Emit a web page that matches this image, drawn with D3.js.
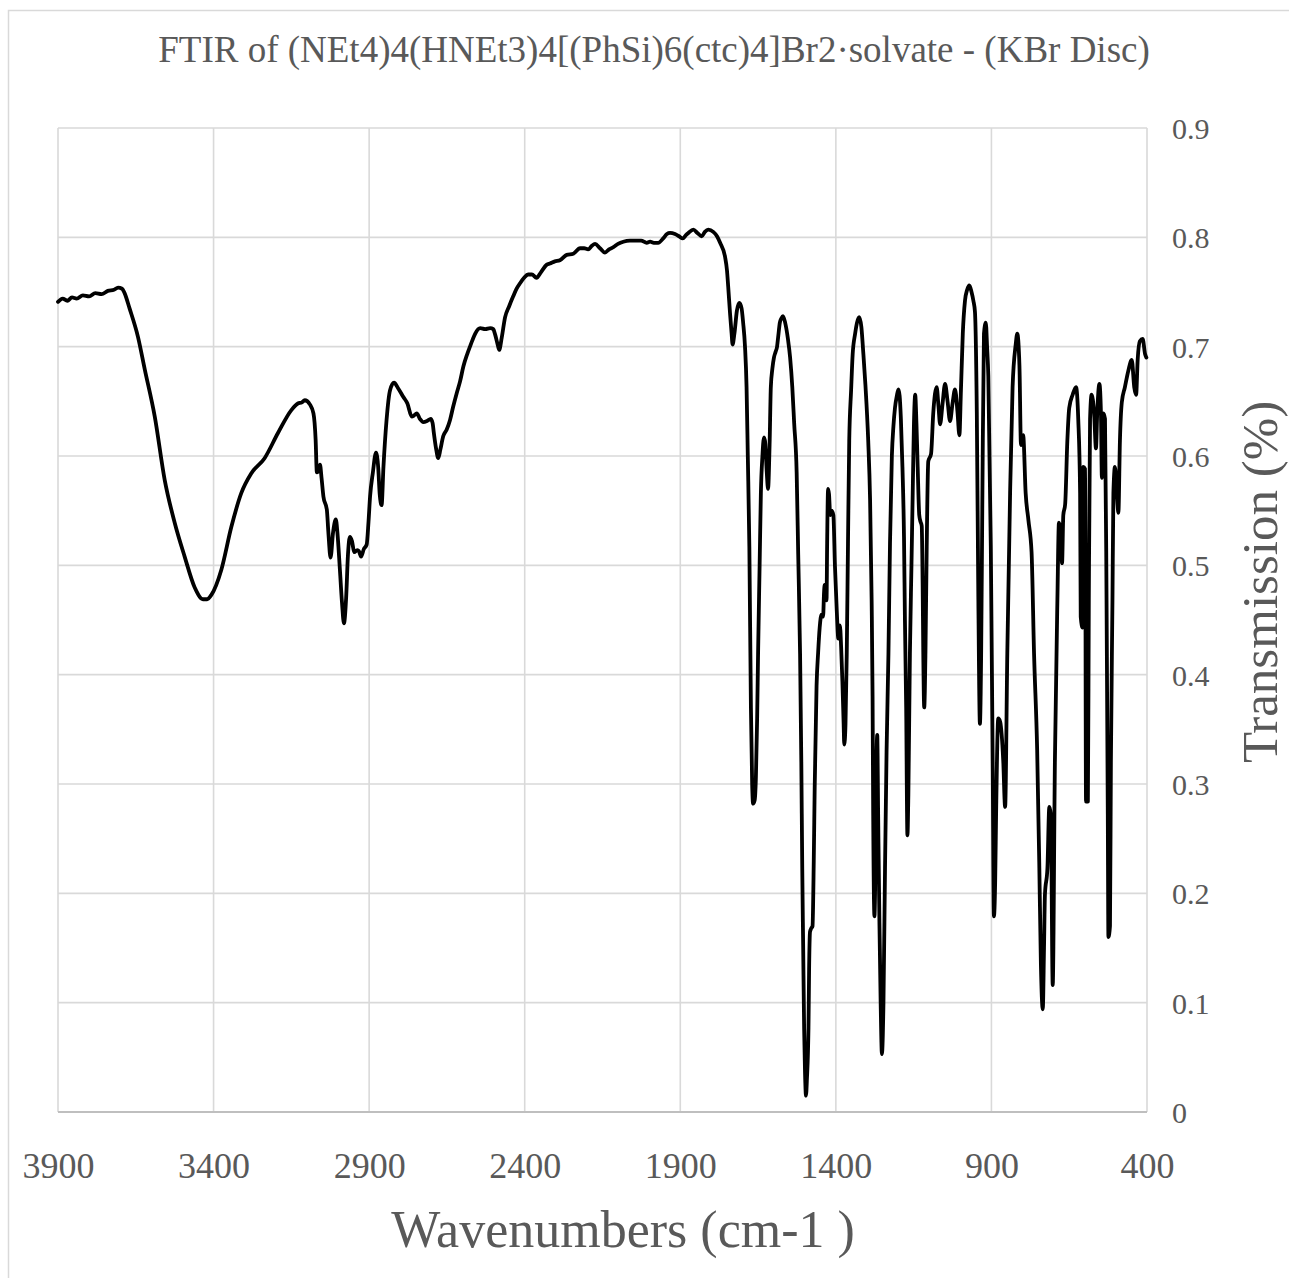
<!DOCTYPE html>
<html>
<head>
<meta charset="utf-8">
<script src="https://cdn.jsdelivr.net/npm/d3@7"></script>
<style>
  html, body { margin: 0; padding: 0; background: #fff; }
  svg { display: block; }
  text { font-family: "Liberation Serif", "Times New Roman", serif; fill: #595959; }
</style>
</head>
<body>
<svg id="chart" width="1289" height="1278"></svg>
<script>
// FTIR spectrum, KBr disc: wavenumber (cm-1) and transmission, row by row
const wavenumbers = [
  3900, 3885, 3870, 3855, 3840, 3820, 3800, 3780, 3760, 3740, 3720, 3707, 3694, 3686, 3670, 3643,
  3621, 3589, 3557, 3525, 3493, 3461, 3434, 3421, 3407, 3375, 3343, 3311, 3279, 3236, 3193, 3150,
  3129, 3116, 3107, 3090, 3079, 3072, 3068, 3061, 3058, 3053, 3047, 3036, 3031, 3024, 3016, 3007,
  3002, 2994, 2987, 2981, 2974, 2968, 2962, 2955, 2948, 2938, 2933, 2926, 2917, 2908, 2902, 2897,
  2888, 2878, 2871, 2866, 2860, 2854, 2844, 2833, 2820, 2807, 2790, 2777, 2763, 2756, 2747, 2737,
  2726, 2714, 2702, 2696, 2692, 2685, 2678, 2671, 2662, 2651, 2640, 2630, 2619, 2608, 2597, 2585,
  2576, 2568, 2559, 2543, 2527, 2511, 2501, 2495, 2487, 2482, 2474, 2463, 2450, 2437, 2426, 2415,
  2402, 2389, 2377, 2362, 2348, 2329, 2319, 2303, 2287, 2265, 2244, 2222, 2209, 2196, 2185, 2174,
  2158, 2142, 2129, 2115, 2100, 2083, 2062, 2040, 2026, 2008, 1997, 1985, 1971, 1955, 1943, 1933,
  1917, 1904, 1892, 1882, 1874, 1858, 1845, 1831, 1821, 1810, 1794, 1782, 1772, 1756, 1750, 1746,
  1740, 1735, 1732, 1726, 1718, 1710, 1703, 1698, 1692, 1687, 1683, 1678, 1673, 1669, 1666, 1661,
  1657, 1653, 1650, 1645, 1641, 1636, 1631, 1627, 1622, 1618, 1613, 1609, 1604, 1599, 1594, 1589,
  1585, 1580, 1575, 1570, 1563, 1554, 1547, 1540, 1534, 1526, 1521, 1515, 1511, 1508, 1505, 1502,
  1499, 1496, 1493, 1488, 1486, 1483, 1479, 1475, 1471, 1468, 1462, 1457, 1452, 1446, 1441, 1438,
  1436, 1430, 1428, 1425, 1422, 1418, 1414, 1408, 1403, 1397, 1392, 1387, 1383, 1379, 1375, 1373,
  1369, 1365, 1361, 1357, 1351, 1346, 1338, 1332, 1325, 1318, 1312, 1305, 1296, 1290, 1285, 1282,
  1280, 1276, 1274, 1271, 1267, 1264, 1260, 1256, 1252, 1247, 1242, 1237, 1231, 1226, 1220, 1215,
  1210, 1204, 1199, 1195, 1191, 1186, 1181, 1178, 1174, 1170, 1167, 1162, 1157, 1153, 1149, 1145,
  1141, 1137, 1132, 1128, 1124, 1121, 1119, 1116, 1112, 1108, 1103, 1094, 1087, 1076, 1070, 1065,
  1057, 1049, 1041, 1033, 1025, 1017, 1009, 1003,  998,  992,  985,  978,  971,  964,  958,  953,
   947,  942,  937,  933,  929,  924,  918,  914,  910,  902,  896,  892,  888,  885,  878,  872,
   867,  862,  856,  849,  840,  832,  822,  817,  810,  805,  798,  790,  781,  771,  763,  753,
   746,  741,  735,  731,  728,  720,  714,  709,  703,  696,  688,  683,  677,  673,  669,  663,
   656,  650,  639,  628,  621,  615,  613,  607,  605,  599,  596,  590,  587,  583,  578,  570,
   564,  560,  553,  548,  545,  540,  535,  530,  526,  524,  519,  516,  511,  508,  503,  497,
   492,  487,  481,  471,  460,  449,  441,  435,  430,  423,  414,  406,  402
];
const transmission = [
  0.741, 0.744, 0.742, 0.745, 0.744, 0.747, 0.746, 0.749, 0.748, 0.751, 0.752, 0.754, 0.753, 0.749, 0.735, 0.709,
  0.679, 0.636, 0.578, 0.539, 0.508, 0.480, 0.469, 0.469, 0.473, 0.496, 0.535, 0.566, 0.584, 0.598, 0.621, 0.642,
  0.648, 0.649, 0.651, 0.647, 0.639, 0.615, 0.585, 0.588, 0.592, 0.580, 0.563, 0.551, 0.530, 0.507, 0.530, 0.542,
  0.530, 0.496, 0.465, 0.447, 0.470, 0.510, 0.526, 0.522, 0.512, 0.514, 0.513, 0.508, 0.515, 0.519, 0.540, 0.563,
  0.585, 0.603, 0.590, 0.565, 0.555, 0.590, 0.633, 0.660, 0.667, 0.662, 0.654, 0.648, 0.636, 0.637, 0.639, 0.634,
  0.631, 0.632, 0.634, 0.630, 0.621, 0.607, 0.598, 0.606, 0.618, 0.624, 0.633, 0.645, 0.657, 0.668, 0.682, 0.693,
  0.700, 0.706, 0.712, 0.717, 0.716, 0.717, 0.716, 0.711, 0.702, 0.697, 0.708, 0.727, 0.737, 0.746, 0.753, 0.758,
  0.763, 0.766, 0.766, 0.763, 0.768, 0.775, 0.776, 0.778, 0.779, 0.784, 0.785, 0.790, 0.790, 0.789, 0.792, 0.794,
  0.790, 0.786, 0.789, 0.791, 0.794, 0.796, 0.797, 0.797, 0.797, 0.795, 0.796, 0.795, 0.795, 0.799, 0.803, 0.804,
  0.803, 0.801, 0.799, 0.802, 0.804, 0.807, 0.804, 0.801, 0.805, 0.807, 0.805, 0.801, 0.795, 0.782, 0.770, 0.755,
  0.730, 0.712, 0.702, 0.712, 0.733, 0.740, 0.735, 0.722, 0.700, 0.663, 0.600, 0.517, 0.370, 0.300, 0.282, 0.285,
  0.306, 0.360, 0.419, 0.500, 0.566, 0.600, 0.617, 0.612, 0.585, 0.570, 0.610, 0.663, 0.680, 0.690, 0.695, 0.700,
  0.710, 0.722, 0.726, 0.728, 0.722, 0.707, 0.690, 0.663, 0.630, 0.585, 0.510, 0.419, 0.320, 0.223, 0.150, 0.077,
  0.035, 0.015, 0.030, 0.077, 0.130, 0.165, 0.168, 0.170, 0.230, 0.297, 0.390, 0.420, 0.443, 0.455, 0.453, 0.475,
  0.482, 0.468, 0.520, 0.570, 0.565, 0.546, 0.550, 0.546, 0.500, 0.458, 0.433, 0.445, 0.425, 0.394, 0.355, 0.336,
  0.355, 0.419, 0.520, 0.614, 0.660, 0.693, 0.712, 0.722, 0.727, 0.718, 0.695, 0.665, 0.614, 0.560, 0.468, 0.380,
  0.272, 0.179, 0.200, 0.290, 0.345, 0.270, 0.174, 0.100, 0.053, 0.100, 0.223, 0.330, 0.419, 0.520, 0.600, 0.627,
  0.644, 0.655, 0.661, 0.655, 0.634, 0.590, 0.526, 0.450, 0.370, 0.253, 0.290, 0.419, 0.500, 0.566, 0.630, 0.656,
  0.630, 0.590, 0.546, 0.540, 0.536, 0.480, 0.419, 0.370, 0.420, 0.517, 0.595, 0.602, 0.639, 0.663, 0.645, 0.629,
  0.648, 0.666, 0.650, 0.632, 0.648, 0.661, 0.640, 0.619, 0.660, 0.712, 0.742, 0.752, 0.756, 0.750, 0.742, 0.732,
  0.640, 0.468, 0.355, 0.420, 0.566, 0.712, 0.722, 0.700, 0.673, 0.517, 0.321, 0.179, 0.210, 0.272, 0.360, 0.357,
  0.345, 0.321, 0.279, 0.419, 0.566, 0.663, 0.702, 0.712, 0.683, 0.610, 0.619, 0.566, 0.541, 0.512, 0.419, 0.331,
  0.223, 0.135, 0.094, 0.150, 0.199, 0.223, 0.279, 0.272, 0.116, 0.321, 0.468, 0.539, 0.531, 0.502, 0.546, 0.556,
  0.614, 0.644, 0.656, 0.663, 0.634, 0.566, 0.453, 0.443, 0.590, 0.588, 0.284, 0.284, 0.468, 0.634, 0.656, 0.639,
  0.607, 0.639, 0.666, 0.639, 0.580, 0.639, 0.634, 0.468, 0.272, 0.160, 0.170, 0.321, 0.468, 0.566, 0.590, 0.566,
  0.548, 0.614, 0.649, 0.663, 0.678, 0.688, 0.663, 0.656, 0.688, 0.705, 0.707, 0.693, 0.690
];
const xTickValues = [3900, 3400, 2900, 2400, 1900, 1400, 900, 400];
const yTickValues = [0, 0.1, 0.2, 0.3, 0.4, 0.5, 0.6, 0.7, 0.8, 0.9];

const titleText = "FTIR of (NEt4)4(HNEt3)4[(PhSi)6(ctc)4]Br2\u00B7solvate - (KBr Disc)";
const xTitleText = "Wavenumbers (cm-1 )";
const yTitleText = "Transmission (%)";

const svg = d3.select("#chart");
const W = 1289, H = 1278;
const plot = { left: 58, right: 1147, top: 128, bottom: 1112 };
const serif = "'Liberation Serif', 'Times New Roman', serif";

// outer chart-area border
svg.append("rect")
  .attr("x", 8.5).attr("y", 10.5)
  .attr("width", W + 20).attr("height", H + 20)
  .attr("fill", "#fff").attr("stroke", "#d9d9d9").attr("stroke-width", 1.5);

const x = d3.scaleLinear().domain([3900, 400]).range([plot.left, plot.right]);
const y = d3.scaleLinear().domain([0, 0.9]).range([plot.bottom, plot.top]);

// gridlines
const grid = svg.append("g").attr("stroke", "#d9d9d9").attr("stroke-width", 1.6);
grid.selectAll("line.h").data(yTickValues.filter(v => v > 0)).join("line")
  .attr("class", "h")
  .attr("x1", plot.left).attr("x2", plot.right)
  .attr("y1", d => y(d)).attr("y2", d => y(d));
grid.selectAll("line.v").data(xTickValues).join("line")
  .attr("class", "v")
  .attr("x1", d => x(d)).attr("x2", d => x(d))
  .attr("y1", plot.top).attr("y2", plot.bottom);

// horizontal axis line
svg.append("line")
  .attr("x1", plot.left).attr("x2", plot.right)
  .attr("y1", y(0)).attr("y2", y(0))
  .attr("stroke", "#bfbfbf").attr("stroke-width", 2);

// x axis labels
const xAxis = d3.axisBottom(x).tickValues(xTickValues).tickSize(0).tickPadding(0).tickFormat(d3.format("d"));
const gx = svg.append("g").attr("transform", `translate(0,${plot.bottom})`).call(xAxis);
gx.attr("font-family", null);
gx.select(".domain").remove();
gx.selectAll("text")
  .attr("y", 66).attr("dy", null)
  .style("font-family", serif)
  .style("font-size", "36px").style("fill", "#595959");

// y axis labels (right side)
const yAxis = d3.axisRight(y).tickValues(yTickValues).tickSize(0).tickPadding(0)
  .tickFormat(d => d === 0 ? "0" : d3.format(".1f")(d));
const gy = svg.append("g").attr("transform", `translate(${plot.right + 25},0)`).call(yAxis);
gy.attr("font-family", null);
gy.select(".domain").remove();
gy.selectAll("text")
  .attr("x", 0).attr("dy", "0.35em")
  .style("font-family", serif)
  .style("font-size", "30px").style("fill", "#595959");

// spectrum
const points = wavenumbers.map((w, i) => [w, transmission[i]]);
const line = d3.line().x(d => x(d[0])).y(d => y(d[1])).curve(d3.curveMonotoneX);
svg.append("path")
  .datum(points)
  .attr("d", line)
  .attr("fill", "none")
  .attr("stroke", "#000")
  .attr("stroke-width", 3.8)
  .attr("stroke-linejoin", "round")
  .attr("stroke-linecap", "round");

// titles
svg.append("text")
  .attr("x", 654).attr("y", 62)
  .attr("text-anchor", "middle")
  .style("font-family", serif)
  .style("font-size", "37px")
  .text(titleText);

svg.append("text")
  .attr("x", 623).attr("y", 1247)
  .attr("text-anchor", "middle")
  .style("font-family", serif)
  .style("font-size", "52px")
  .text(xTitleText);

svg.append("text")
  .attr("transform", "translate(1277,582) rotate(-90)")
  .attr("text-anchor", "middle")
  .style("font-family", serif)
  .style("font-size", "51px")
  .text(yTitleText);
</script>
</body>
</html>
